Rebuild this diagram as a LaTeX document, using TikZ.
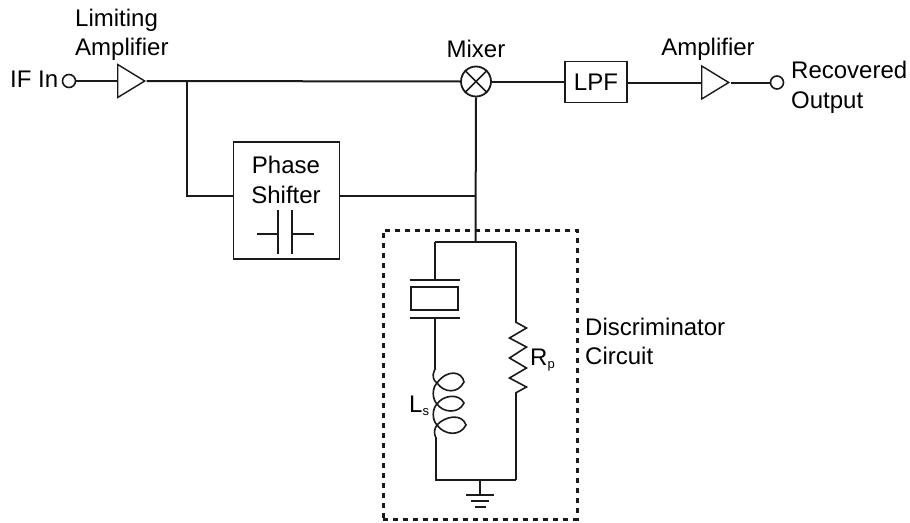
\documentclass[tikz,border=0pt]{standalone}
\usepackage{xcolor}
\usepackage{fontspec}
\setmainfont{Liberation Sans}
\usetikzlibrary{arrows.meta,positioning,shapes.geometric,calc}
\definecolor{wire}{HTML}{1A1A1A}
\newcommand{\subtxt}[1]{{\fontsize{13}{13}\selectfont\raisebox{-3pt}{#1}}}
\tikzset{
  lbl/.style    ={inner sep=0pt,anchor=base west,text=black,align=left},
  lblmid/.style ={inner sep=0pt,anchor=base,text=black},
  port/.style   ={circle,draw=wire,line width=1.6pt,fill=white,inner sep=0pt,minimum size=13pt},
  amp/.style    ={isosceles triangle,isosceles triangle stretches,shape border rotate=0,
                  draw=wire,line width=1.4pt,inner sep=0pt,minimum width=33pt,minimum height=27pt,
                  anchor=lower side},
  mixbox/.style ={circle,draw=wire,line width=1.8pt,inner sep=0pt,minimum size=30pt},
  blockbox/.style={rectangle,draw=wire,line width=1.8pt,inner sep=0pt,text=black,align=center},
  zone/.style   ={rectangle,draw=wire,line width=3pt,dash pattern=on 5pt off 5pt,inner sep=0pt,
                  minimum width=194pt,minimum height=289pt},
  flow/.style   ={line width=2pt,draw=wire},
  thin/.style   ={line width=1.6pt,draw=wire}
}
\begin{document}
\begin{tikzpicture}[x=1pt,y=-1pt,font=\fontsize{24}{26}\selectfont]
        \useasboundingbox (0,0) rectangle (910,522);
        % signal path along the top
        \node[port] (ifin) at (69,81) {};
        \node[amp] (limamp) at (117,81) {};
        \node[mixbox] (mixer) at (476,81.5) {};
        \node[blockbox,minimum width=62pt,minimum height=41pt] (lpf) at (596,82) {LPF};
        \node[amp] (outamp) at (701,82.5) {};
        \node[port] (recout) at (777,82.5) {};
        \draw[flow] (ifin) -- (limamp.lower side);
        \draw[flow] (limamp.apex) -- (mixer.west);
        \draw[flow] (mixer.east) -- (lpf.west |- mixer.east);
        \draw[flow] (lpf.east |- outamp.lower side) -- (outamp.lower side);
        \draw[flow] (outamp.apex) -- (recout);
        \draw[thin] (mixer.45) -- (mixer.225);
        \draw[thin] (mixer.135) -- (mixer.-45);
        % phase shifter branch
        \coordinate (tap) at (187,81);
        \coordinate (tee) at (475.5,196);
        \coordinate (top) at (475.5,242);
        \node[blockbox,minimum width=106pt,minimum height=117pt] (shifter) at (286.5,200.5) {};
        \node[lblmid] (phasetxt) at (286,173) {Phase};
        \node[lblmid] (shifttxt) at (286,203) {Shifter};
        \draw[flow] (tap) |- (shifter.west |- tee);
        \draw[flow] (shifter.east |- tee) -- (tee);
        \draw[flow] (mixer.south) -- (top);
        % capacitor
        \coordinate (capa) at (278,232);
        \coordinate (capb) at (292,232);
        \draw[thin] (capa) ++(0,-22) -- ++(0,44);
        \draw[thin] (capb) ++(0,-22) -- ++(0,44);
        \draw[thin] (capa) ++(-21,2) -- ++(21,0);
        \draw[thin] (capb) ++(0,2) -- ++(22,0);
        % discriminator
        \node[zone] (disc) at (480,374.5) {};
        \coordinate (leftup) at (434.5,242);
        \coordinate (rightup) at (515.5,242);
        \coordinate (leftlow) at (435.5,480);
        \coordinate (rightlow) at (515.5,480);
        \coordinate (gnd) at (480,480);
        \draw[flow] (leftup) -- (rightup);
        % crystal
        \node[blockbox,minimum width=47pt,minimum height=23pt] (xtal) at (434.5,298.5) {};
        \coordinate (platea) at (434.5,280);
        \coordinate (plateb) at (434.5,318);
        \draw[flow] ([xshift=-25pt]platea) -- ([xshift=25pt]platea);
        \draw[flow] ([xshift=-25pt]plateb) -- ([xshift=25pt]plateb);
        \draw[flow] (leftup) -- (platea);
        % inductor
        \coordinate (lstop) at (434.5,370);
        \coordinate (lsbot) at (435.5,437);
        \draw[flow] (plateb) -- (lstop);
        \draw[thin] (lstop) .. controls (432,376) and (433,380) .. (437,383)
          .. controls (447,369) and (462,371) .. (464,382)
          .. controls (458,394) and (444,393) .. (437,383)
          .. controls (432,388) and (432,399) .. (437,404)
          .. controls (443,395) and (459,393) .. (464,403)
          .. controls (459,414) and (443,413) .. (437,404)
          .. controls (432,409) and (432,420) .. (437,425)
          .. controls (445,416) and (462,413) .. (466,425)
          .. controls (460,437) and (444,435) .. (437,425)
          .. controls (434,429) and (434,433) .. (lsbot);
        \draw[flow] (lsbot) -- (leftlow) -- (rightlow);
        % resistor
        \coordinate (rptop) at (515.5,322);
        \coordinate (rpbot) at (515.5,393);
        \draw[flow] (rightup) -- (rptop);
        \draw[thin] (rptop) -- ++(11,6) -- ++(-17,10) -- ++(17,9) -- ++(-17,11)
          -- ++(17,10) -- ++(-17,10) -- ++(17,9) -- (rpbot);
        \draw[flow] (rpbot) -- (rightlow);
        % ground
        \draw[flow] (gnd) -- ++(0,15) coordinate (gndbar);
        \draw[flow] ([xshift=-14pt]gndbar) -- ([xshift=14pt]gndbar);
        \draw[flow] ($(gndbar)+(-9,6)$) -- ($(gndbar)+(9,6)$);
        \draw[flow] ($(gndbar)+(-5,12)$) -- ($(gndbar)+(6,12)$);
        % labels
        \node[lbl] (iftxt) at (10,87) {IF In};
        \node[lbl] (limtxt) at (75,26) {Limiting};
        \node[lbl] (amptxt) at (75,55) {Amplifier};
        \node[lblmid] (mixtxt) at (476,57) {Mixer};
        \node[lblmid] (outtxt) at (708,55) {Amplifier};
        \node[lbl] (rectxt) at (791,78) {Recovered};
        \node[lbl] (optxt) at (791,108) {Output};
        \node[lbl] (distxt) at (585,335) {Discriminator};
        \node[lbl] (cirtxt) at (585,364) {Circuit};
        \node[lbl] (rptxt) at (530,365) {R\subtxt{p}};
        \node[lbl] (lstxt) at (409,412) {L\subtxt{s}};
      \end{tikzpicture}
\end{document}
